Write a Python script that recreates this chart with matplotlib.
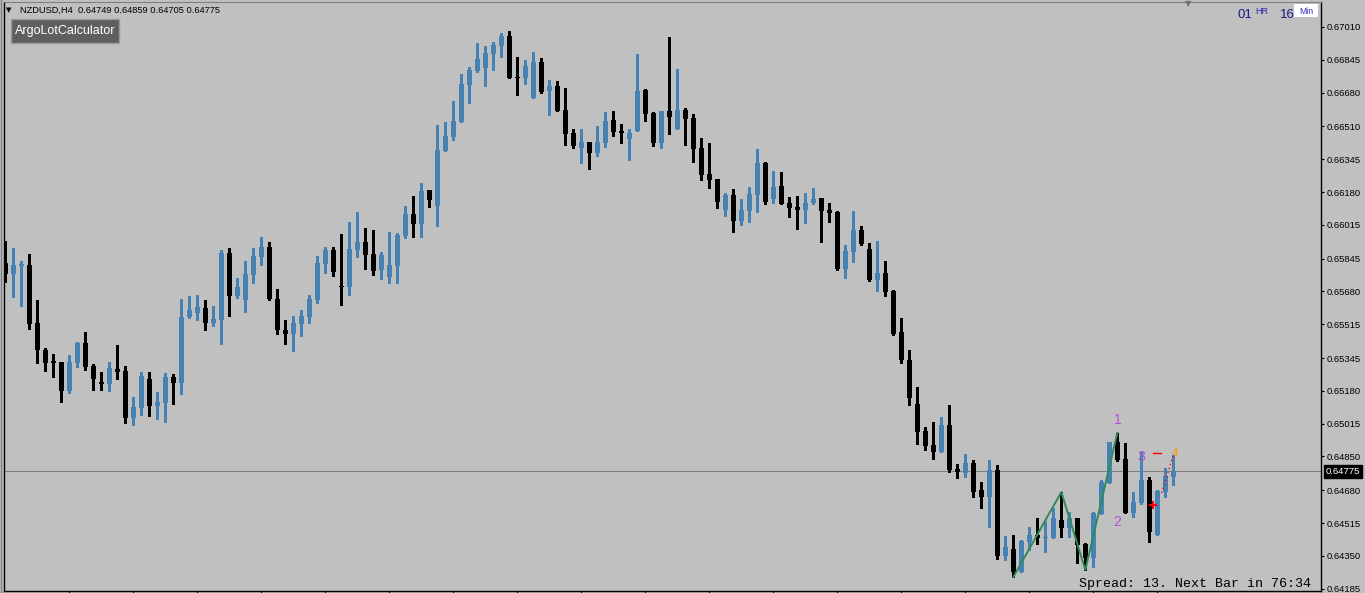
import numpy as np
import matplotlib
matplotlib.use("Agg")
import matplotlib.pyplot as plt
from matplotlib.patches import Rectangle
from matplotlib.lines import Line2D

plt.rcParams['font.family'] = ['Liberation Sans', 'DejaVu Sans']

# NZDUSD H4 candles, oldest first
opens = [0.65823, 0.65768, 0.65808, 0.65813, 0.65521, 0.65385, 0.65330, 0.65325, 0.65179, 0.65320,
         0.65421, 0.65305, 0.65224, 0.65214, 0.65290, 0.65280, 0.65043, 0.65094, 0.65239, 0.65104,
         0.65119, 0.65250, 0.65219, 0.65551, 0.65571, 0.65597, 0.65521, 0.65536, 0.65873, 0.65657,
         0.65637, 0.65763, 0.65853, 0.65903, 0.65642, 0.65486, 0.65466, 0.65516, 0.65551, 0.65637,
         0.65818, 0.65888, 0.65707, 0.65702, 0.65888, 0.65929, 0.65868, 0.65788, 0.65753, 0.65808,
         0.65959, 0.66069, 0.66019, 0.66190, 0.66110, 0.66386, 0.66457, 0.66532, 0.66718, 0.66789,
         0.66804, 0.66874, 0.66914, 0.66965, 0.66758, 0.66753, 0.66653, 0.66834, 0.66688, 0.66713,
         0.66592, 0.66477, 0.66401, 0.66431, 0.66376, 0.66426, 0.66542, 0.66487, 0.66447, 0.66487,
         0.66693, 0.66577, 0.66426, 0.66587, 0.66497, 0.66592, 0.66552, 0.66401, 0.66271, 0.66245,
         0.66090, 0.66165, 0.66034, 0.66085, 0.66165, 0.66326, 0.66145, 0.66210, 0.66125, 0.66105,
         0.66090, 0.66125, 0.66150, 0.66090, 0.66079, 0.65793, 0.65878, 0.65989, 0.65893, 0.65737,
         0.65773, 0.65682, 0.65476, 0.65335, 0.65114, 0.64978, 0.64907, 0.64872, 0.65008, 0.64787,
         0.64767, 0.64817, 0.64681, 0.64646, 0.64782, 0.64349, 0.64384, 0.64269, 0.64420, 0.64455,
         0.64440, 0.64440, 0.64530, 0.64490, 0.64540, 0.64410, 0.64339, 0.64560, 0.64716, 0.64923,
         0.64837, 0.64565, 0.64616, 0.64731, 0.64455, 0.64671, 0.64749]
highs = [0.65934, 0.65898, 0.65833, 0.65868, 0.65637, 0.65395, 0.65365, 0.65325, 0.65360, 0.65426,
         0.65476, 0.65315, 0.65275, 0.65325, 0.65410, 0.65305, 0.65149, 0.65275, 0.65275, 0.65174,
         0.65270, 0.65265, 0.65642, 0.65657, 0.65662, 0.65637, 0.65607, 0.65888, 0.65898, 0.65747,
         0.65833, 0.65898, 0.65954, 0.65929, 0.65692, 0.65536, 0.65556, 0.65587, 0.65662, 0.65858,
         0.65903, 0.65903, 0.65969, 0.66029, 0.66079, 0.65999, 0.65989, 0.65878, 0.65979, 0.65974,
         0.66110, 0.66160, 0.66225, 0.66190, 0.66517, 0.66532, 0.66638, 0.66774, 0.66809, 0.66930,
         0.66914, 0.66935, 0.66980, 0.66990, 0.66859, 0.66844, 0.66884, 0.66854, 0.66743, 0.66738,
         0.66703, 0.66497, 0.66497, 0.66431, 0.66512, 0.66582, 0.66587, 0.66522, 0.66497, 0.66874,
         0.66698, 0.66582, 0.66587, 0.66960, 0.66799, 0.66603, 0.66572, 0.66452, 0.66426, 0.66245,
         0.66175, 0.66195, 0.66145, 0.66205, 0.66396, 0.66331, 0.66286, 0.66281, 0.66155, 0.66160,
         0.66175, 0.66200, 0.66150, 0.66125, 0.66085, 0.65913, 0.66085, 0.66009, 0.65923, 0.65934,
         0.65833, 0.65687, 0.65546, 0.65385, 0.65199, 0.64998, 0.65023, 0.65048, 0.65109, 0.64812,
         0.64862, 0.64832, 0.64721, 0.64832, 0.64807, 0.64450, 0.64455, 0.64430, 0.64495, 0.64540,
         0.64525, 0.64591, 0.64671, 0.64570, 0.64540, 0.64415, 0.64570, 0.64731, 0.64923, 0.64968,
         0.64918, 0.64671, 0.64872, 0.64746, 0.64681, 0.64792, 0.64859]
lows = [0.65727, 0.65652, 0.65607, 0.65491, 0.65320, 0.65280, 0.65250, 0.65124, 0.65169, 0.65300,
        0.65285, 0.65184, 0.65184, 0.65179, 0.65239, 0.65018, 0.65008, 0.65058, 0.65053, 0.65038,
        0.65023, 0.65114, 0.65164, 0.65546, 0.65536, 0.65486, 0.65506, 0.65416, 0.65556, 0.65647,
        0.65576, 0.65722, 0.65813, 0.65637, 0.65466, 0.65416, 0.65380, 0.65456, 0.65521, 0.65622,
        0.65773, 0.65758, 0.65612, 0.65662, 0.65853, 0.65793, 0.65763, 0.65742, 0.65722, 0.65722,
        0.65949, 0.65954, 0.65954, 0.66105, 0.66009, 0.66386, 0.66442, 0.66532, 0.66628, 0.66784,
        0.66713, 0.66794, 0.66859, 0.66753, 0.66668, 0.66723, 0.66653, 0.66678, 0.66567, 0.66587,
        0.66416, 0.66401, 0.66326, 0.66296, 0.66361, 0.66406, 0.66462, 0.66426, 0.66341, 0.66487,
        0.66537, 0.66411, 0.66401, 0.66472, 0.66497, 0.66416, 0.66331, 0.66240, 0.66200, 0.66100,
        0.66059, 0.65979, 0.66014, 0.66029, 0.66079, 0.66120, 0.66125, 0.66120, 0.66054, 0.65994,
        0.66024, 0.66120, 0.65929, 0.66029, 0.65788, 0.65747, 0.65828, 0.65913, 0.65732, 0.65682,
        0.65657, 0.65461, 0.65320, 0.65109, 0.64912, 0.64882, 0.64837, 0.64872, 0.64772, 0.64741,
        0.64746, 0.64646, 0.64591, 0.64495, 0.64334, 0.64329, 0.64243, 0.64269, 0.64379, 0.64410,
        0.64369, 0.64440, 0.64445, 0.64445, 0.64314, 0.64279, 0.64294, 0.64560, 0.64716, 0.64827,
        0.64565, 0.64545, 0.64611, 0.64420, 0.64455, 0.64646, 0.64705]
closes = [0.65768, 0.65813, 0.65818, 0.65516, 0.65385, 0.65320, 0.65320, 0.65179, 0.65325, 0.65421,
          0.65300, 0.65239, 0.65214, 0.65295, 0.65275, 0.65043, 0.65099, 0.65255, 0.65104, 0.65124,
          0.65250, 0.65219, 0.65551, 0.65587, 0.65602, 0.65521, 0.65541, 0.65873, 0.65657, 0.65702,
          0.65768, 0.65858, 0.65903, 0.65642, 0.65486, 0.65466, 0.65521, 0.65556, 0.65642, 0.65823,
          0.65888, 0.65778, 0.65702, 0.65893, 0.65929, 0.65863, 0.65783, 0.65863, 0.65813, 0.65964,
          0.66069, 0.66019, 0.66185, 0.66140, 0.66391, 0.66462, 0.66537, 0.66723, 0.66794, 0.66849,
          0.66879, 0.66919, 0.66965, 0.66753, 0.66753, 0.66814, 0.66834, 0.66683, 0.66713, 0.66587,
          0.66472, 0.66411, 0.66431, 0.66376, 0.66431, 0.66537, 0.66482, 0.66477, 0.66477, 0.66688,
          0.66572, 0.66426, 0.66587, 0.66557, 0.66592, 0.66547, 0.66396, 0.66266, 0.66240, 0.66130,
          0.66165, 0.66034, 0.66090, 0.66170, 0.66326, 0.66130, 0.66205, 0.66120, 0.66100, 0.66090,
          0.66125, 0.66145, 0.66085, 0.66074, 0.65793, 0.65883, 0.65989, 0.65918, 0.65737, 0.65773,
          0.65677, 0.65466, 0.65335, 0.65144, 0.64973, 0.64902, 0.64872, 0.65008, 0.64782, 0.64772,
          0.64817, 0.64671, 0.64646, 0.64782, 0.64349, 0.64394, 0.64269, 0.64425, 0.64455, 0.64440,
          0.64445, 0.64540, 0.64490, 0.64540, 0.64404, 0.64339, 0.64565, 0.64721, 0.64923, 0.64832,
          0.64565, 0.64621, 0.64731, 0.64470, 0.64676, 0.64752, 0.64775]

symbol = "NZDUSD,H4"
price_ticks = [0.67010, 0.66845, 0.66680, 0.66510, 0.66345, 0.66180, 0.66015, 0.65845, 0.65680,
               0.65515, 0.65345, 0.65180, 0.65015, 0.64850, 0.64680, 0.64515, 0.64350, 0.64185]
time_ticks = list(range(8, 145, 8))

# zigzag / wave indicator
zz_idx = [126, 132, 135, 139]
zz_price = [0.64243, 0.64671, 0.64279, 0.64968]
wave_labels = ["1", "2", "3"]
wave_idx = [139, 139, 142]
wave_price = [0.65033, 0.64520, 0.64847]
proj_idx = [144.55, 146.0]
proj_price = [0.64666, 0.64857]
dash_idx = [143.45, 144.45]
dash_price = 0.64867
cross_idx, cross_price = 143.45, 0.64606
flag_idx, flag_price = 146.2, 0.64867

BG = "#c0c0c0"
BULL = "#4682b4"
BEAR = "#000000"
W, H = 1365, 593

def fx(px):
    return px / W

def fy(py):
    return 1 - py / H

fig = plt.figure(figsize=(W / 100, H / 100), dpi=100, facecolor=BG)
ax = fig.add_axes([4 / W, 2 / H, 1317 / W, 589 / H], facecolor=BG)

o = np.array(opens)
hi = np.array(highs)
lo = np.array(lows)
c = np.array(closes)
x = np.arange(len(o))
col = np.where(c >= o, BULL, BEAR)

ax.axhline(c[-1], color="#808080", lw=0.8, zorder=2)
ax.vlines(x, lo, hi, colors=col, linewidth=0.8, zorder=3, antialiased=False)
body_lo = np.minimum(o, c)
body_h = np.maximum(np.abs(c - o), 0.00004)
ax.bar(x, body_h, bottom=body_lo, width=0.64, color=col, linewidth=0, zorder=4, antialiased=False)

ax.plot(zz_idx, zz_price, color="#2e8b57", lw=1.4, zorder=5)
for t, i, p in zip(wave_labels, wave_idx, wave_price):
    ax.text(i, p, t, color="#b44fd6", fontsize=10, ha="center", va="center", zorder=6)
ax.plot(proj_idx, proj_price, color="red", lw=1, ls=(0, (1, 2)), zorder=6)
ax.plot(dash_idx, [dash_price, dash_price], color="red", lw=1, zorder=6)
ax.plot([cross_idx], [cross_price], marker="+", color="red", ms=6, mew=1.5, zorder=6)
ax.text(flag_idx, flag_price, "4", color="#f0a030", fontsize=8, fontweight="bold",
        ha="center", va="center", zorder=6)

ax.set_xlim(-0.1625, 164.46)
ax.set_ylim(0.641731, 0.671357)

for s in ["left", "right", "bottom"]:
    ax.spines[s].set_color("black")
    ax.spines[s].set_linewidth(1)
ax.spines["top"].set_color("#808080")

ax.yaxis.tick_right()
ax.set_yticks(price_ticks)
ax.set_yticklabels([f"{v:.5f}" for v in price_ticks])
ax.tick_params(axis="y", direction="out", length=2.5, width=0.8, pad=1.5, labelsize=6.8)
ax.set_xticks(time_ticks)
ax.tick_params(axis="x", direction="out", length=2, width=0.8, labelbottom=False)

ax.annotate(f"{c[-1]:.5f}", xy=(1, c[-1]), xycoords=("axes fraction", "data"),
            xytext=(3.6, 0), textcoords="offset points", ha="left", va="center",
            color="white", fontsize=6.8,
            bbox=dict(boxstyle="square,pad=0.2", fc="black", ec="black"))

# header
fig.text(fx(9), fy(10), "\u25bc", fontsize=5, ha="center", va="center", family="DejaVu Sans")
fig.text(fx(20), fy(10.5), f"{symbol}  {opens[-1]:.5f} {highs[-1]:.5f} {lows[-1]:.5f} {closes[-1]:.5f}",
         fontsize=6.7, ha="left", va="center")
fig.patches.append(Rectangle((fx(11), fy(43)), 108 / W, 24 / H, transform=fig.transFigure,
                             facecolor="#5f5f5f", edgecolor="#9a9a9a", lw=1))
fig.text(fx(65), fy(31), "ArgoLotCalculator", color="white", fontsize=9, ha="center", va="center")

# timer
fig.text(fx(1188), fy(4), "\u25bc", fontsize=6, color="#707070", ha="center", va="center",
         family="DejaVu Sans")
fig.patches.append(Rectangle((fx(1294), fy(17)), 24 / W, 13 / H, transform=fig.transFigure,
                             facecolor="white", edgecolor="none"))
fig.text(fx(1237), fy(18), "01", color="#1a1a8c", fontsize=9.5, ha="left", va="baseline")
fig.text(fx(1255), fy(14), "HR", color="#2a2aa8", fontsize=6.5, ha="left", va="baseline")
fig.text(fx(1280), fy(18), "16", color="#1a1a8c", fontsize=9.5, ha="left", va="baseline", zorder=5)
fig.text(fx(1299), fy(14), "Min", color="#3030c0", fontsize=6.2, ha="left", va="baseline")

fig.text(fx(1079), fy(587), "Spread: 13. Next Bar in 76:34", family="Liberation Mono",
         fontsize=9.6, ha="left", va="baseline")

fig.add_artist(Line2D([fx(1), fx(1)], [0, 1], color="#808080", lw=1, transform=fig.transFigure))

fig.savefig("out.png", dpi=100, facecolor=BG)
